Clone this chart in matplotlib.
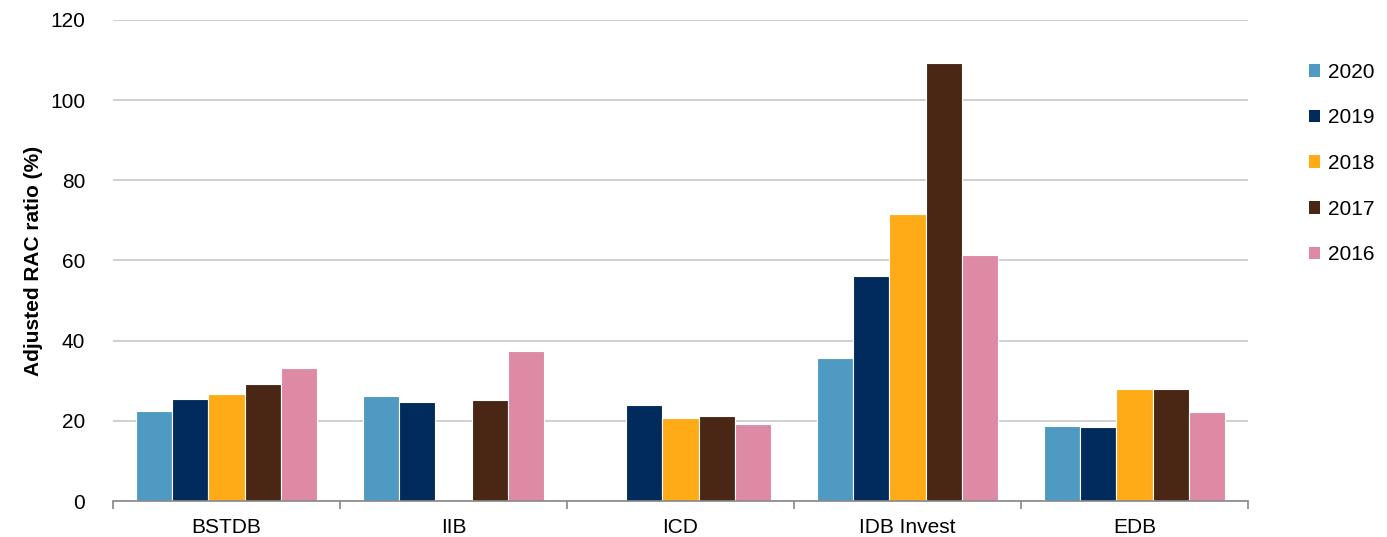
import numpy as np
import matplotlib
matplotlib.use("Agg")
import matplotlib.pyplot as plt
from matplotlib.patches import Patch

plt.rcParams['font.family'] = ['Liberation Sans', 'DejaVu Sans']

categories = ["BSTDB", "IIB", "ICD", "IDB Invest", "EDB"]
years = ["2020", "2019", "2018", "2017", "2016"]
v2020 = [22.5, 26.1, np.nan, 35.8, 18.8]
v2019 = [25.4, 24.7, 23.9, 56.2, 18.5]
v2018 = [26.8, np.nan, 20.7, 71.7, 28.0]
v2017 = [29.2, 25.1, 21.2, 109.3, 28.0]
v2016 = [33.3, 37.3, 19.3, 61.3, 22.3]
series = [v2020, v2019, v2018, v2017, v2016]
colors = ["#4F9AC2", "#002B5C", "#FFAB18", "#4A2614", "#DE8AA4"]

fig = plt.figure(figsize=(13.87, 5.37), dpi=100)
ax = fig.add_axes([0.0815, 0.067, 0.8183, 0.8958])

x = np.arange(len(categories))
n = len(series)
group = 0.8
w = group / n
for i, (vals, c) in enumerate(zip(series, colors)):
    ax.bar(x - group / 2 + w * (i + 0.5), vals, width=w, color=c,
           edgecolor="white", linewidth=0.8, zorder=3)

ax.set_xlim(-0.5, len(categories) - 0.5)
ax.set_ylim(0, 120)
ax.set_yticks(np.arange(0, 121, 20))
ax.yaxis.grid(True, color="#C8C8C8", linewidth=1.2, zorder=0)
ax.tick_params(axis="y", length=0, labelsize=15, pad=20, colors="black")

ax.set_xticks(np.arange(-0.5, len(categories), 1.0))
ax.set_xticklabels([])
ax.tick_params(axis="x", which="major", length=6, color="#888888", width=1.2)
ax.set_xticks(x, minor=True)
ax.set_xticklabels(categories, minor=True)
ax.tick_params(axis="x", which="minor", length=0, labelsize=15, pad=12)

for s in ["top", "right", "left"]:
    ax.spines[s].set_visible(False)
ax.spines["bottom"].set_color("#888888")
ax.spines["bottom"].set_linewidth(1.2)
ax.spines["bottom"].set_zorder(4)

ax.set_ylabel("Adjusted RAC ratio (%)", fontsize=15, fontweight="bold", labelpad=5)

handles = [Patch(facecolor=c, edgecolor="none") for c in colors]
fig.legend(handles, years, loc="upper left", bbox_to_anchor=(0.93, 0.918),
           frameon=False, fontsize=15, labelspacing=1.28,
           handlelength=0.55, handleheight=0.55, handletextpad=0.4)

fig.savefig("out.png", dpi=100)
